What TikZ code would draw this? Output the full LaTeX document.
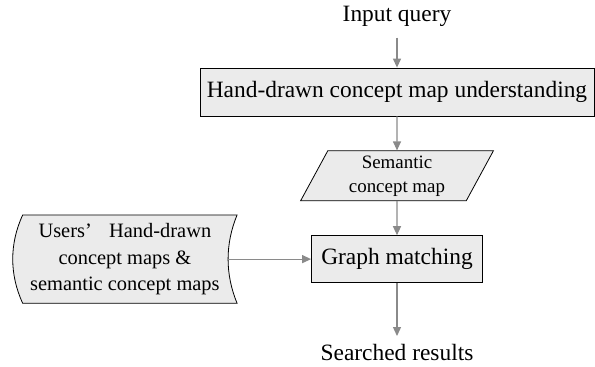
\documentclass[tikz,border=0pt]{standalone}
\usepackage{fontspec}
\setmainfont{Liberation Serif}
\usepackage{tikz}
\usetikzlibrary{arrows.meta,positioning,shapes.geometric,backgrounds}
\definecolor{MapFill}{HTML}{EBEBEB}
\definecolor{MapArrow}{HTML}{8A8A8A}
\newcommand{\bigtxt}{\fontsize{23.5}{28}\selectfont}

\begin{document}
\begin{tikzpicture}[
  x=1bp,y=1bp,
  box/.style={draw=black,line width=0.8bp,fill=MapFill,inner xsep=4bp,inner ysep=0bp,minimum height=48bp,align=center,font=\bigtxt},
  data/.style={trapezium,trapezium left angle=65,trapezium right angle=115,trapezium stretches=true,draw=black,line width=0.8bp,fill=MapFill,minimum width=193bp,minimum height=50bp,inner sep=0bp,align=center,font=\fontsize{19}{24}\selectfont},
  stored/.style={minimum width=224bp,minimum height=88bp,inner sep=0bp,align=center,font=\fontsize{20.5}{27}\selectfont},
  txt/.style={inner sep=11bp,font=\bigtxt},
  arr/.style={-{Triangle[length=9bp,width=8bp]},line width=1.2bp,draw=MapArrow}
]
\useasboundingbox (0,0) rectangle (595,366);
\node[box,minimum width=394bp] (understand) at (397,274) {Hand-drawn concept map understanding};
\node[txt,above=30bp of understand] (query) {Input query};
\node[data,below=34bp of understand] (semantic) {Semantic\\concept map};
\node[box,minimum width=171bp,minimum height=47bp,below=34bp of semantic] (matching) {Graph matching};
\node[txt,inner sep=8bp,below=53bp of matching] (results) {Searched results};
\node[stored,left=74bp of matching] (users) {Users’\hspace{0.85em}Hand-drawn\\concept maps \&\\semantic concept maps};

\begin{scope}[on background layer]
\draw[line width=0.8bp,fill=MapFill] ([xshift=10bp]users.north west) -- (users.north east)
  .. controls +(-12bp,-29bp) and +(-12bp,29bp) .. (users.south east)
  -- ([xshift=10bp]users.south west)
  .. controls +(-13.3bp,29bp) and +(-13.3bp,-29bp) .. ([xshift=10bp]users.north west) -- cycle;
\end{scope}

\draw[arr] (query) -- (understand);
\draw[arr] (understand) -- (semantic);
\draw[arr] (semantic) -- (matching);
\draw[arr] (matching) -- (results);
\draw[arr] ([xshift=-9bp]users.east) -- (matching);
\end{tikzpicture}
\end{document}
